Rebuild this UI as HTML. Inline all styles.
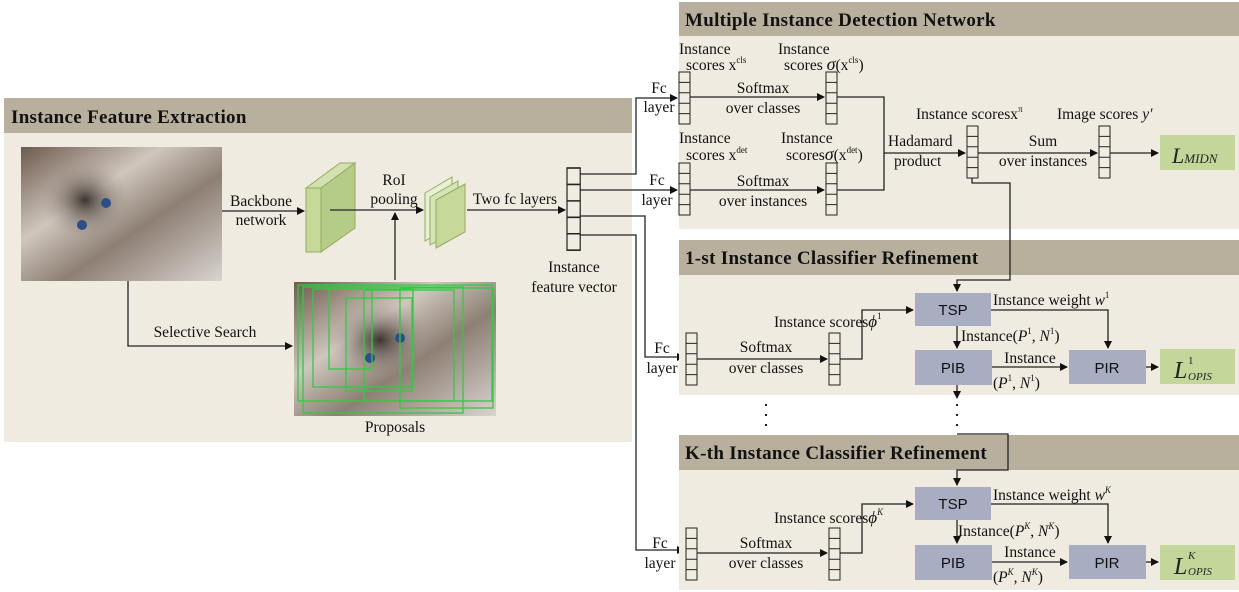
<!DOCTYPE html>
<html><head><meta charset="utf-8"><style>
body{margin:0;background:#fff;}
svg{display:block;font-family:"Liberation Serif",serif;}
.t{font-size:15.5px;fill:#111;}
.m{text-anchor:middle;}
.h{font-size:19px;font-weight:bold;fill:#111;letter-spacing:0.3px;}
.c{fill:#f0ece1;stroke:#222;stroke-width:1;}
.ln{stroke:#222;stroke-width:1.3;fill:none;}
.bx{fill:#a9adc2;}
.bt{font-family:"Liberation Sans",sans-serif;font-size:15px;fill:#111;text-anchor:middle;}
</style></head><body>
<svg width="1239" height="592" viewBox="0 0 1239 592">
<defs>
<marker id="a" markerWidth="8" markerHeight="8" refX="7" refY="4" orient="auto" markerUnits="userSpaceOnUse"><path d="M0,0 L8,4 L0,8z" fill="#111"/></marker>
<linearGradient id="cat" x1="0" y1="0" x2="1" y2="1"><stop offset="0" stop-color="#6d5a4e"/><stop offset="0.35" stop-color="#cfc6bd"/><stop offset="0.6" stop-color="#8d7f74"/><stop offset="1" stop-color="#d9d3cf"/></linearGradient>
<radialGradient id="face" cx="0.5" cy="0.5" r="0.5"><stop offset="0" stop-color="#3d3430"/><stop offset="1" stop-color="#a89c93" stop-opacity="0"/></radialGradient>
<g id="col"><rect class="c" x="0" y="0" width="11" height="52"/><path class="ln" style="stroke-width:1" d="M0,10.4H11M0,20.8H11M0,31.2H11M0,41.6H11"/></g>
</defs>
<rect x="4" y="98" width="628" height="344" fill="#f0ebe0"/>
<rect x="4" y="98" width="628" height="35" fill="#b8b09d"/>
<text class="h" x="11" y="123">Instance Feature Extraction</text>
<rect x="21" y="147" width="201" height="134" fill="url(#cat)"/>
<ellipse cx="85" cy="200" rx="45" ry="40" fill="url(#face)"/>
<circle cx="106" cy="203" r="5" fill="#2c4f8a"/><circle cx="82" cy="225" r="5" fill="#2c4f8a"/>
<rect x="294" y="282" width="202" height="134" fill="url(#cat)"/>
<ellipse cx="380" cy="340" rx="50" ry="40" fill="url(#face)"/>
<circle cx="400" cy="338" r="5" fill="#2c4f8a"/><circle cx="370" cy="358" r="5" fill="#2c4f8a"/>
<g fill="none" stroke="#2ecc40" stroke-width="1.3">
<rect x="298" y="285" width="194" height="116"/><rect x="303" y="287" width="160" height="126"/><rect x="313" y="289" width="100" height="98"/><rect x="346" y="298" width="66" height="93"/><rect x="329" y="289" width="43" height="80"/><rect x="364" y="290" width="90" height="111"/><rect x="400" y="288" width="93" height="120"/>
</g>
<polygon points="306,188 340,163 355,163 321,188" fill="#d4e0b0" stroke="#8fae5d"/>
<polygon points="321,188 355,163 355,228 321,252" fill="#b5cc88" stroke="#8fae5d"/>
<rect x="306" y="188" width="15" height="64" fill="#c6d99b" stroke="#8fae5d"/>
<g stroke="#8fae5d">
<polygon points="425,193 452,177 452,225 425,241" fill="#e8efd4"/>
<polygon points="430,197 458,181 458,229 430,245" fill="#d7e4b5"/>
<polygon points="436,200 465,184 465,232 436,248" fill="#c6d99b"/>
</g>
<text class="t m" x="261" y="206">Backbone</text><text class="t m" x="261" y="225">network</text>
<path class="ln" d="M222,211H304" marker-end="url(#a)"/>
<text class="t m" x="394" y="185">RoI</text><text class="t m" x="394" y="204">pooling</text>
<path class="ln" d="M330,210H423" marker-end="url(#a)"/>
<path class="ln" d="M395,280V213" marker-end="url(#a)"/>
<text class="t m" x="515" y="204">Two fc layers</text>
<path class="ln" d="M467,210H565" marker-end="url(#a)"/>
<use href="#col" transform="translate(567,168) scale(1.2,1.58)"/>
<text class="t m" x="574" y="272">Instance</text><text class="t m" x="574" y="292">feature vector</text>
<path class="ln" d="M128,281V346H292" marker-end="url(#a)"/>
<text class="t m" x="205" y="337">Selective Search</text>
<text class="t m" x="395" y="432">Proposals</text>
<rect x="679" y="2" width="560" height="227" fill="#f0ebe0"/>
<rect x="679" y="2" width="560" height="34" fill="#b8b09d"/>
<text class="h" x="685" y="26">Multiple Instance Detection Network</text>
<use href="#col" transform="translate(679,72)"/><use href="#col" transform="translate(826,72)"/>
<use href="#col" transform="translate(679,163)"/><use href="#col" transform="translate(826,163)"/>
<use href="#col" transform="translate(967,126)"/><use href="#col" transform="translate(1099,126)"/>
<text class="t" x="679" y="54">Instance</text><text class="t" x="686" y="70">scores x<tspan font-size="9" dy="-7">cls</tspan></text>
<text class="t" x="778" y="54">Instance</text><text class="t" x="784" y="70">scores <tspan font-style="italic" font-size="18">σ</tspan>(x<tspan font-size="9" dy="-7">cls</tspan><tspan dy="7">)</tspan></text>
<text class="t m" x="763" y="93">Softmax</text><text class="t m" x="763" y="113">over classes</text>
<path class="ln" d="M690,97H824" marker-end="url(#a)"/>
<text class="t" x="679" y="143">Instance</text><text class="t" x="686" y="160">scores x<tspan font-size="9" dy="-7">det</tspan></text>
<text class="t" x="781" y="143">Instance</text><text class="t" x="786" y="160">scores<tspan font-style="italic" font-size="18">σ</tspan>(x<tspan font-size="9" dy="-7">det</tspan><tspan dy="7">)</tspan></text>
<text class="t m" x="763" y="186">Softmax</text><text class="t m" x="763" y="206">over instances</text>
<path class="ln" d="M690,190H824" marker-end="url(#a)"/>
<path class="ln" d="M837,97H884V190H837"/>
<text class="t" x="888" y="146">Hadamard</text><text class="t" x="894" y="166">product</text>
<path class="ln" d="M884,153H965" marker-end="url(#a)"/>
<text class="t" x="916" y="119">Instance scoresx<tspan font-size="9" dy="-7">π</tspan></text>
<text class="t" x="1057" y="119">Image scores <tspan font-style="italic">y′</tspan></text>
<text class="t m" x="1043" y="146">Sum</text><text class="t m" x="1043" y="166">over instances</text>
<path class="ln" d="M978,153H1097" marker-end="url(#a)"/>
<path class="ln" d="M1110,153H1158" marker-end="url(#a)"/>
<rect x="1160" y="135" width="75" height="35" fill="#c4d79b"/>
<text x="1172" y="163" font-size="22" font-style="italic" fill="#222">L<tspan font-size="13">MIDN</tspan></text>
<path class="ln" d="M580,174H636V98H677" marker-end="url(#a)"/>
<path class="ln" d="M580,190H677" marker-end="url(#a)"/>
<path class="ln" d="M580,216H645V357H684" marker-end="url(#a)"/>
<path class="ln" d="M580,235H636V550H684" marker-end="url(#a)"/>
<text class="t m" x="659" y="93">Fc</text><text class="t m" x="659" y="112">layer</text>
<text class="t m" x="657" y="185">Fc</text><text class="t m" x="657" y="205">layer</text>
<rect x="679" y="240" width="560" height="155" fill="#f0ebe0"/>
<rect x="679" y="240" width="560" height="35" fill="#b8b09d"/>
<text class="h" x="685" y="264">1-st  Instance Classifier Refinement</text>
<text class="t m" x="662" y="353">Fc</text><text class="t m" x="662" y="373">layer</text>
<use href="#col" transform="translate(686,333)"/><use href="#col" transform="translate(829,333)"/>
<text class="t m" x="766" y="352">Softmax</text><text class="t m" x="766" y="373">over classes</text>
<path class="ln" d="M697,359H827" marker-end="url(#a)"/>
<text class="t" x="774" y="327">Instance scores<tspan font-style="italic" font-size="17">ϕ</tspan><tspan font-size="9" dy="-8">1</tspan></text>
<path class="ln" d="M840,359H862V310H913" marker-end="url(#a)"/>
<path class="ln" d="M972,178V183H1010V280H957V291" marker-end="url(#a)"/>
<rect class="bx" x="915" y="293" width="76" height="33"/><text class="bt" x="953" y="315">TSP</text>
<rect class="bx" x="915" y="350" width="77" height="35"/><text class="bt" x="953" y="373">PIB</text>
<rect class="bx" x="1069" y="350" width="77" height="34"/><text class="bt" x="1107" y="373">PIR</text>
<rect x="1160" y="349" width="75" height="35" fill="#c4d79b"/>
<text x="1174" y="378" font-size="24" font-style="italic" fill="#222">L</text><text x="1188" y="364" font-size="11" fill="#222">1</text><text x="1188" y="380" font-size="11" font-style="italic" fill="#222">OPIS</text>
<text class="t" x="993" y="305">Instance weight <tspan font-style="italic">w</tspan><tspan font-size="9" dy="-7">1</tspan></text>
<path class="ln" d="M991,310H1108V348" marker-end="url(#a)"/>
<path class="ln" d="M957,326V348" marker-end="url(#a)"/>
<text class="t" x="961" y="341">Instance(<tspan font-style="italic">P</tspan><tspan font-size="9" dy="-7">1</tspan><tspan dy="7">, </tspan><tspan font-style="italic">N</tspan><tspan font-size="9" dy="-7">1</tspan><tspan dy="7">)</tspan></text>
<text class="t m" x="1030" y="363">Instance</text>
<text class="t" x="993" y="388">(<tspan font-style="italic">P</tspan><tspan font-size="9" dy="-7">1</tspan><tspan dy="7">, </tspan><tspan font-style="italic">N</tspan><tspan font-size="9" dy="-7">1</tspan><tspan dy="7">)</tspan></text>
<path class="ln" d="M992,367H1067" marker-end="url(#a)"/>
<path class="ln" d="M1146,367H1158" marker-end="url(#a)"/>
<path class="ln" d="M957,385V398" marker-end="url(#a)"/>
<path d="M957,404V434" stroke="#222" stroke-width="2" stroke-dasharray="2,8"/>
<path d="M766,404V430" stroke="#222" stroke-width="2" stroke-dasharray="2,8"/>
<rect x="679" y="435" width="560" height="155" fill="#f0ebe0"/>
<rect x="679" y="435" width="560" height="35" fill="#b8b09d"/>
<text class="h" x="685" y="459">K-th Instance Classifier Refinement</text>
<path class="ln" d="M957,434H1008V470H957V485" marker-end="url(#a)"/>
<text class="t m" x="660" y="548">Fc</text><text class="t m" x="660" y="568">layer</text>
<use href="#col" transform="translate(686,528)"/><use href="#col" transform="translate(829,528)"/>
<text class="t m" x="766" y="548">Softmax</text><text class="t m" x="766" y="568">over classes</text>
<path class="ln" d="M697,553H827" marker-end="url(#a)"/>
<text class="t" x="774" y="523">Instance scores<tspan font-style="italic" font-size="17">ϕ</tspan><tspan font-size="9" font-style="italic" dy="-8">K</tspan></text>
<path class="ln" d="M840,553H862V504H913" marker-end="url(#a)"/>
<rect class="bx" x="915" y="487" width="76" height="33"/><text class="bt" x="953" y="509">TSP</text>
<rect class="bx" x="915" y="545" width="77" height="35"/><text class="bt" x="953" y="568">PIB</text>
<rect class="bx" x="1069" y="545" width="77" height="34"/><text class="bt" x="1107" y="568">PIR</text>
<rect x="1160" y="545" width="75" height="35" fill="#c4d79b"/>
<text x="1174" y="574" font-size="24" font-style="italic" fill="#222">L</text><text x="1188" y="559" font-size="11" font-style="italic" fill="#222">K</text><text x="1188" y="575" font-size="11" font-style="italic" fill="#222">OPIS</text>
<text class="t" x="993" y="500">Instance weight <tspan font-style="italic">w</tspan><tspan font-size="9" font-style="italic" dy="-7">K</tspan></text>
<path class="ln" d="M991,504H1108V543" marker-end="url(#a)"/>
<path class="ln" d="M957,520V543" marker-end="url(#a)"/>
<text class="t" x="958" y="536">Instance(<tspan font-style="italic">P</tspan><tspan font-size="9" font-style="italic" dy="-7">K</tspan><tspan dy="7">, </tspan><tspan font-style="italic">N</tspan><tspan font-size="9" font-style="italic" dy="-7">K</tspan><tspan dy="7">)</tspan></text>
<text class="t m" x="1030" y="557">Instance</text>
<text class="t" x="993" y="582">(<tspan font-style="italic">P</tspan><tspan font-size="9" font-style="italic" dy="-7">K</tspan><tspan dy="7">, </tspan><tspan font-style="italic">N</tspan><tspan font-size="9" font-style="italic" dy="-7">K</tspan><tspan dy="7">)</tspan></text>
<path class="ln" d="M992,562H1067" marker-end="url(#a)"/>
<path class="ln" d="M1146,562H1158" marker-end="url(#a)"/>
</svg>
</body></html>
